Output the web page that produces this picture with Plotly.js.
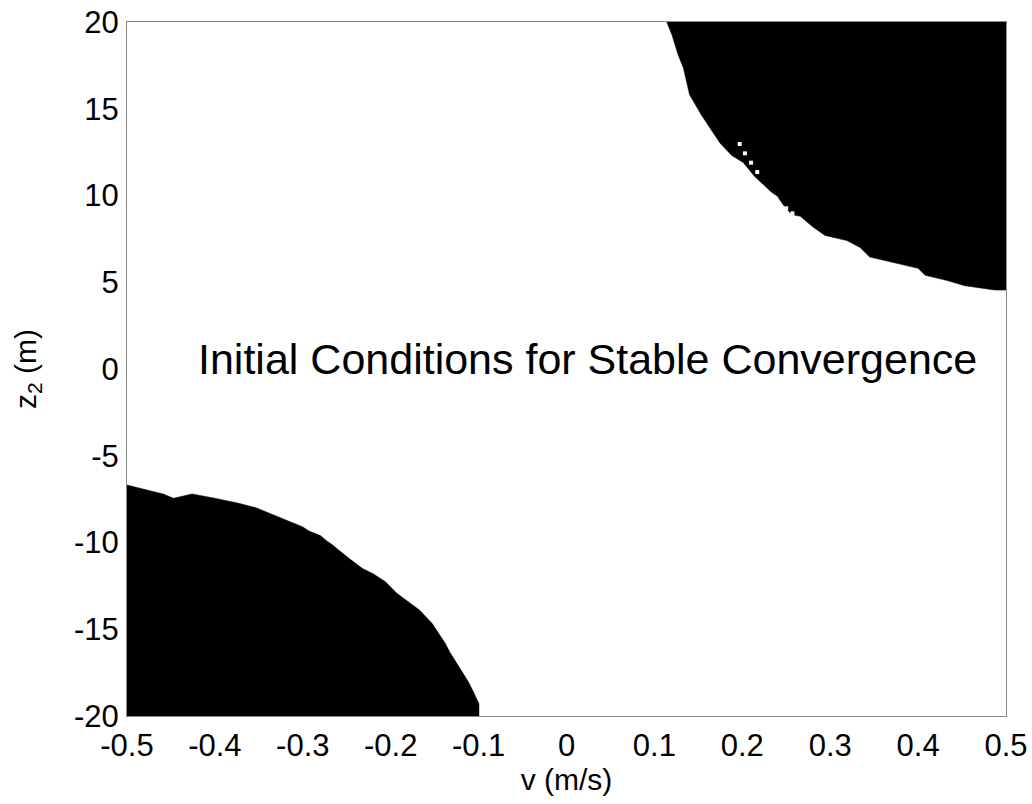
<!DOCTYPE html>
<html>
<head>
<meta charset="utf-8">
<script src="https://cdn.plot.ly/plotly-3.0.1.min.js"></script>
<style>html,body{margin:0;padding:0;background:#fff;}#chart{width:1032px;height:804px;}</style>
</head>
<body>
<div id="chart"></div>
<script>
// Upper-right unstable region boundary (v in m/s, z2 in m)
const upperV = [0.114, 0.120, 0.127, 0.133, 0.140, 0.154, 0.167, 0.175, 0.188, 0.201, 0.214, 0.233, 0.240, 0.246, 0.256, 0.266, 0.280, 0.294, 0.319, 0.334, 0.345, 0.374, 0.400, 0.408, 0.433, 0.453, 0.487, 0.500];
const upperZ = [20, 19.25, 18.1, 17.35, 15.8, 14.6, 13.6, 13.0, 12.3, 11.9, 11.1, 10.2, 9.95, 9.5, 8.9, 8.8, 8.2, 7.7, 7.4, 7.0, 6.45, 6.1, 5.8, 5.4, 5.1, 4.8, 4.55, 4.55];
// Lower-left unstable region boundary
const lowerV = [-0.5, -0.481, -0.459, -0.447, -0.426, -0.400, -0.373, -0.353, -0.340, -0.327, -0.313, -0.300, -0.293, -0.280, -0.273, -0.266, -0.260, -0.253, -0.246, -0.240, -0.232, -0.220, -0.206, -0.193, -0.180, -0.167, -0.153, -0.146, -0.138, -0.133, -0.125, -0.119, -0.112, -0.106, -0.0996, -0.0996];
const lowerZ = [-6.69, -6.93, -7.2, -7.45, -7.2, -7.45, -7.74, -8.0, -8.26, -8.55, -8.8, -9.1, -9.34, -9.6, -9.9, -10.14, -10.4, -10.7, -10.97, -11.2, -11.5, -11.8, -12.26, -12.93, -13.4, -13.9, -14.66, -15.2, -15.8, -16.3, -16.97, -17.4, -18.0, -18.6, -19.3, -20];
// Isolated stable points inside the upper region
const holesV = [0.197, 0.203, 0.210, 0.217, 0.250, 0.257];
const holesZ = [12.97, 12.43, 11.89, 11.35, 9.26, 8.97];
const xTicks = [-0.5, -0.4, -0.3, -0.2, -0.1, 0, 0.1, 0.2, 0.3, 0.4, 0.5];
const xTickText = ['-0.5', '-0.4', '-0.3', '-0.2', '-0.1', '0', '0.1', '0.2', '0.3', '0.4', '0.5'];
const yTicks = [-20, -15, -10, -5, 0, 5, 10, 15, 20];
const yTickText = ['-20', '-15', '-10', '-5', '0', '5', '10', '15', '20'];
const annotationText = 'Initial Conditions for Stable Convergence';

const font = 'Liberation Sans, Arial, Helvetica, sans-serif';

const traces = [
  {
    x: upperV.concat([0.5]),
    y: upperZ.concat([20]),
    type: 'scatter', mode: 'lines', fill: 'toself',
    fillcolor: '#000', line: {color: '#000', width: 0.5},
    hoverinfo: 'skip', showlegend: false
  },
  {
    x: lowerV.concat([-0.5]),
    y: lowerZ.concat([-20]),
    type: 'scatter', mode: 'lines', fill: 'toself',
    fillcolor: '#000', line: {color: '#000', width: 0.5},
    hoverinfo: 'skip', showlegend: false
  },
  {
    x: holesV, y: holesZ, type: 'scatter', mode: 'markers',
    marker: {symbol: 'square', size: 4, color: '#fff'},
    hoverinfo: 'skip', showlegend: false
  }
];

const layout = {
  width: 1032, height: 804,
  margin: {l: 127, r: 26, t: 22, b: 88},
  paper_bgcolor: '#fff', plot_bgcolor: '#fff',
  font: {family: font, color: '#000', size: 30},
  showlegend: false,
  xaxis: {
    range: [-0.5, 0.5], tickvals: xTicks, ticktext: xTickText,
    showgrid: false, zeroline: false, showline: true, mirror: true,
    linecolor: '#8a8a8a', linewidth: 1, ticks: '',
    tickfont: {family: font, size: 31, color: '#000'},
    ticklabelstandoff: 2,
    title: {text: 'v (m/s)', font: {family: font, size: 30, color: '#000'}, standoff: 4}
  },
  yaxis: {
    range: [-20, 20], tickvals: yTicks, ticktext: yTickText,
    showgrid: false, zeroline: false, showline: true, mirror: true,
    linecolor: '#8a8a8a', linewidth: 1, ticks: '',
    tickfont: {family: font, size: 31, color: '#000'},
    ticklabelstandoff: 1,
    title: {text: 'z<sub>2</sub> (m)', font: {family: font, size: 30, color: '#000'}, standoff: 28}
  },
  annotations: [{
    x: 0.024, y: 0.55, xref: 'x', yref: 'y',
    text: annotationText, showarrow: false,
    xanchor: 'center', yanchor: 'middle',
    font: {family: font, size: 43, color: '#000'}
  }]
};

Plotly.newPlot('chart', traces, layout, {displayModeBar: false, staticPlot: true});
</script>
</body>
</html>
